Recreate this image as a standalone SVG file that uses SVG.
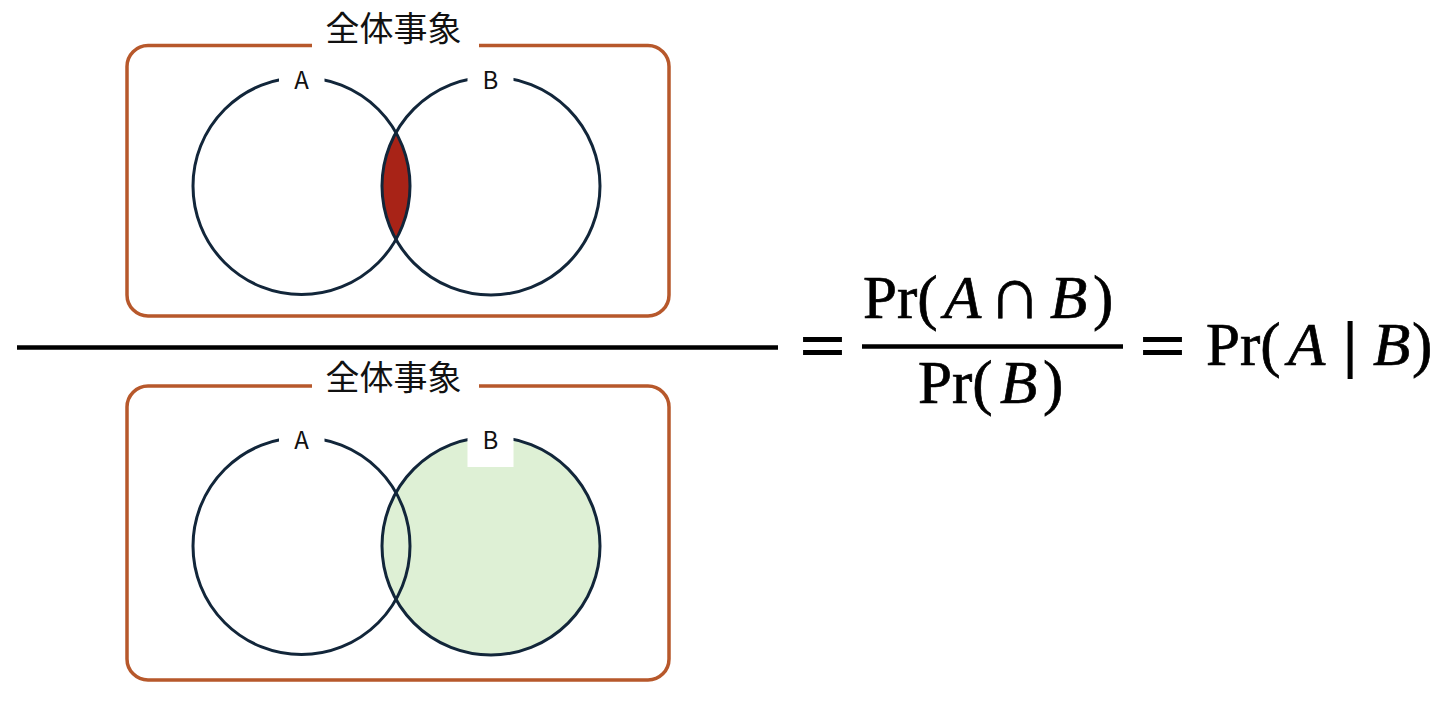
<svg xmlns="http://www.w3.org/2000/svg" width="1452" height="702" viewBox="0 0 1452 702">
  <style>
    .frame{fill:none;stroke:#B7582B;stroke-width:3.5}
    .ring{fill:none;stroke:#12263A;stroke-width:3}
    .mask{fill:#FFFFFF;stroke:none}
    .title{font-family:"Noto Sans CJK JP","Noto Sans",sans-serif;font-size:34px;fill:#111111;text-anchor:middle}
    .lbl{font-family:"Noto Sans CJK JP","Noto Sans",sans-serif;font-size:24px;fill:#111111;text-anchor:middle}
    .math{font-family:"Liberation Serif","DejaVu Serif",serif;font-size:61px;fill:#000000;stroke:#000000;stroke-width:0.7}
    .eq{font-family:"Liberation Serif","DejaVu Serif",serif;font-size:63px;fill:#000000;stroke:#000000;stroke-width:1.8;text-anchor:middle}
    .it{font-style:italic}
    .bar{stroke:#000000;stroke-width:4.5;fill:none}
  </style>
  <rect width="1452" height="702" fill="#FFFFFF"/>

  <g id="venn-intersection">
    <rect class="frame" x="127" y="45.5" width="542" height="270.5" rx="21" ry="21"/>
    <rect class="mask" x="312" y="28" width="167" height="30"/>
    <text class="title" x="393.5" y="41">全体事象</text>
    <path d="M396 132.6 A108.5 108.5 0 0 1 396 239.4 A109 109 0 0 1 396 132.6 Z" fill="#A82317"/>
    <circle class="ring" cx="301.5" cy="186" r="108.5"/>
    <circle class="ring" cx="491" cy="186" r="109"/>
    <rect class="mask" x="279" y="60" width="45.5" height="47"/>
    <rect class="mask" x="467.5" y="60" width="46" height="47"/>
    <text class="lbl" x="301.5" y="89">A</text>
    <text class="lbl" x="490.5" y="89">B</text>
  </g>

  <g id="venn-b">
    <rect class="frame" x="127" y="386" width="542" height="294" rx="21" ry="21"/>
    <rect class="mask" x="312" y="370" width="167" height="30"/>
    <text class="title" x="393.5" y="390">全体事象</text>
    <circle cx="491" cy="546" r="109" fill="#DEF0D5"/>
    <circle class="ring" cx="301.5" cy="546" r="108.5"/>
    <circle class="ring" cx="491" cy="546" r="109"/>
    <rect class="mask" x="279" y="420" width="45.5" height="47"/>
    <rect class="mask" x="467.5" y="420" width="46" height="47"/>
    <text class="lbl" x="301.5" y="449">A</text>
    <text class="lbl" x="490.5" y="449">B</text>
  </g>

  <g id="connectors">
    <line class="bar" x1="17" y1="347.5" x2="778" y2="347.5"/>
    <line class="bar" x1="862" y1="346.5" x2="1123" y2="346.5" stroke-width="4"/>
  </g>

  <g id="formula">
    <text class="eq" transform="translate(822.5 0) scale(1.25 1)" x="0" y="367">=</text>
    <text class="math" y="318"><tspan x="863">Pr(</tspan><tspan class="it" x="944">A</tspan><tspan x="1015" text-anchor="middle" font-size="74">∩</tspan><tspan class="it" x="1050">B</tspan><tspan x="1093">)</tspan></text>
    <text class="math" y="403"><tspan x="918">Pr(</tspan><tspan class="it" x="1000">B</tspan><tspan x="1043">)</tspan></text>
    <text class="eq" transform="translate(1162.5 0) scale(1.25 1)" x="0" y="367">=</text>
    <text class="math" y="365"><tspan x="1206">Pr(</tspan><tspan class="it" x="1288">A</tspan><tspan x="1350" text-anchor="middle" stroke-width="2">|</tspan><tspan class="it" x="1373">B</tspan><tspan x="1412">)</tspan></text>
  </g>
</svg>
